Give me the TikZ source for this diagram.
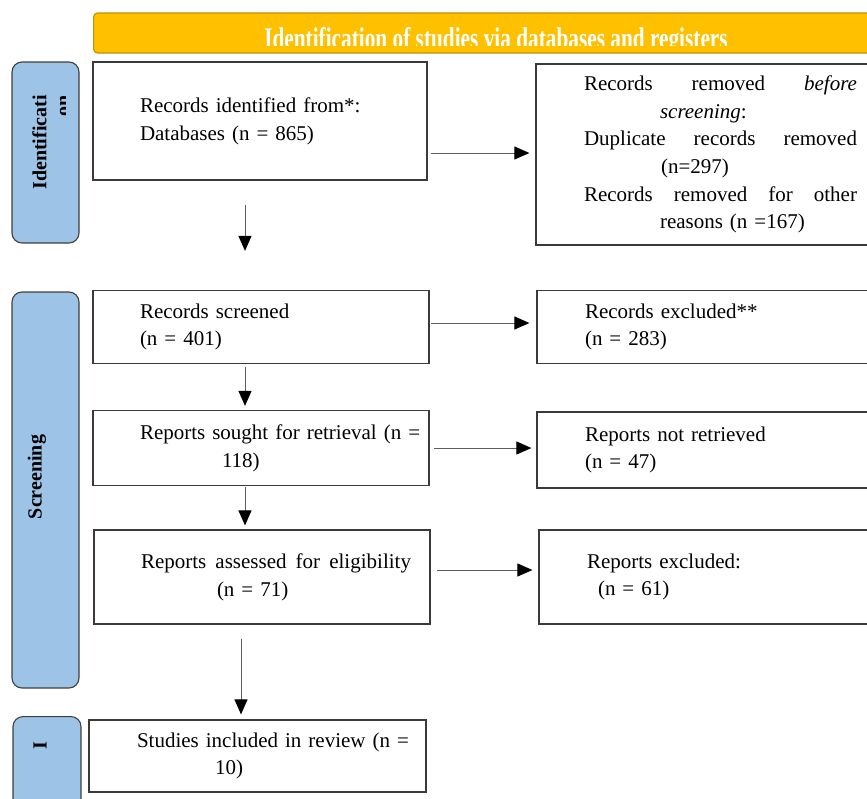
\documentclass[tikz,border=0pt]{standalone}
\usepackage{fontspec}
\setmainfont{Liberation Serif}
\usepackage{graphicx}
\usetikzlibrary{arrows.meta}

\definecolor{headfill}{HTML}{FFC000}
\definecolor{headline}{HTML}{C39300}
\definecolor{barfill}{HTML}{9DC3E6}
\definecolor{barline}{HTML}{404040}
\definecolor{boxline}{HTML}{3A3A3A}
\definecolor{arrline}{HTML}{5E5E5E}

% left and right padding of the text inside a box
\newcommand{\txtpad}[2]{\parindent=0pt\leftskip=#1pt\rightskip=#2pt plus 1fil\relax}

\tikzset{
	box/.style={draw=boxline, line width=1.2pt, inner xsep=0pt, inner ysep=0pt, font=\fontsize{21}{27.7}\selectfont},
	bar/.style={draw=barline, fill=barfill, line width=1.1pt, rounded corners=10pt},
	bartxt/.style={rotate=90, font=\fontsize{20}{23}\selectfont\bfseries},
	arr/.style={draw=arrline, line width=1pt, -{Triangle[length=15pt,width=13pt,color=black]}},
}

\begin{document}
\begin{tikzpicture}[x=1pt, y=-1pt]
	\useasboundingbox (0,0) rectangle (867,798);
	
	% Header
	\node[draw=headline, fill=headfill, line width=1.2pt, rounded corners=4pt, minimum width=800pt, minimum height=40pt, anchor=west] (head) at (93,33) {};
	\begin{scope}
		\clip (93,13) rectangle (880,45);
		\node[text=white, font=\fontsize{30}{30}\selectfont\bfseries, anchor=base, inner sep=0pt] (headtxt) at (496,48.5) {\scalebox{0.71}[1]{Identification of studies via databases and registers}};
	\end{scope}
	
	% Stage bars
	\node[bar, minimum width=67pt, minimum height=181pt] (idbar) at (45.5,152.5) {};
	\node[bar, minimum width=67pt, minimum height=396pt] (scrbar) at (45.5,490) {};
	\node[bar, minimum width=68pt, minimum height=100pt, anchor=north] (incbar) at (47,716) {};
	
	\begin{scope}
		\clip (12,62) rectangle (65,243);
		\node[bartxt, align=right] (idtxt) at (51,142.5) {Identificati\\on};
	\end{scope}
	\node[bartxt] (scrtxt) at (37,477) {Screening};
	\node[bartxt] (inctxt) at (40,746) {I};
	
	% Left column
	\node[box, text width=334pt, minimum height=118pt] (rec) at (260,121) {\txtpad{47}{0}Records identified from*:\\Databases (n = 865)\par};
	\node[box, text width=336pt, minimum height=73pt] (scr) at (261,327) {\txtpad{47}{0}Records screened\\(n = 401)\par};
	\node[box, text width=336pt, minimum height=75pt] (sought) at (261,448) {\txtpad{47}{0}Reports sought for retrieval (n =\\\hspace*{82pt}118)\par};
	\node[box, text width=336pt, minimum height=94pt] (elig) at (262,577) {\txtpad{47}{19}Reports\hfill assessed\hfill for\hfill eligibility\\\hspace*{76pt}(n = 71)\par};
	\node[box, text width=337pt, minimum height=72pt] (incl) at (257.5,756) {\txtpad{48}{0}Studies included in review (n =\\\hspace*{78pt}10)\par};
	
	% Right column
	\node[box, text width=344pt, minimum height=181pt] (rem) at (708,154.5) {\txtpad{48}{23}Records\hfill removed\hfill \textit{before}\\
		\hspace*{76pt}\textit{screening}:\\
		Duplicate\hfill records\hfill removed\\
		\hspace*{77pt}(n=297)\\
		Records\hfill removed\hfill for\hfill other\\
		\hspace*{76pt}reasons (n =167)\par};
	\node[box, text width=343pt, minimum height=73pt] (excl) at (708.5,327) {\txtpad{48}{0}Records excluded**\\(n = 283)\par};
	\node[box, text width=343pt, minimum height=76pt] (notret) at (708.5,450) {\txtpad{48}{0}Reports not retrieved\\(n = 47)\par};
	\node[box, text width=341pt, minimum height=94pt] (repexc) at (709.5,577) {\txtpad{48}{0}Reports excluded:\\\hspace*{11pt}(n = 61)\par};
	
	% Arrows to the right
	\draw[arr, shorten <=3pt, shorten >=6pt] ([yshift=-32pt]rec.east) -- ([yshift=-32pt]rec.east -| rem.west);
	\draw[arr, shorten <=1pt, shorten >=7pt] ([yshift=4pt]scr.east) -- ([yshift=4pt]scr.east -| excl.west);
	\draw[arr, shorten <=4pt, shorten >=5pt] ([yshift=0pt]sought.east) -- ([yshift=0pt]sought.east -| notret.west);
	\draw[arr, shorten <=6pt, shorten >=6pt] ([yshift=7pt]elig.east) -- ([yshift=7pt]elig.east -| repexc.west);
	
	% Arrows down
	\draw[arr, shorten <=24pt, shorten >=39pt] ([xshift=-15pt]rec.south) -- ([xshift=-15pt]rec.south |- scr.north);
	\draw[arr, shorten <=3pt, shorten >=4pt] ([xshift=-16pt]scr.south) -- ([xshift=-16pt]scr.south |- sought.north);
	\draw[arr, shorten <=1pt, shorten >=4pt] ([xshift=-16pt]sought.south) -- ([xshift=-16pt]sought.south |- elig.north);
	\draw[arr, shorten <=14pt, shorten >=5pt] ([xshift=-21pt]elig.south) -- ([xshift=-21pt]elig.south |- incl.north);
\end{tikzpicture}
\end{document}
